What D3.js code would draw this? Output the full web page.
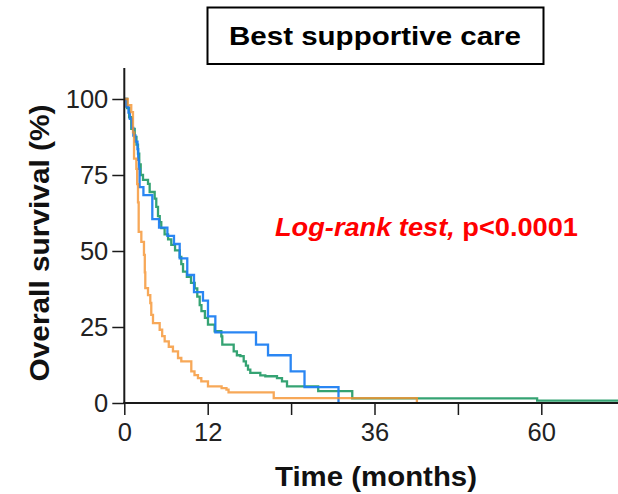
<!DOCTYPE html>
<html>
<head>
<meta charset="utf-8">
<script src="https://cdn.jsdelivr.net/npm/d3@7"></script>
<style>
  html, body { margin: 0; padding: 0; background: #fff; }
  svg { display: block; font-family: "Liberation Sans", Arial, sans-serif; }
</style>
</head>
<body>
<svg id="chart" width="618" height="494"></svg>
<script>
// ---- Data ----
const chartTitle = "Best supportive care";
const xTitle = "Time (months)";
const yTitle = "Overall survival (%)";
const statItalic = "Log-rank test,";
const statPlain = " p<0.0001";

const xTickValues = [0, 12, 24, 36, 48, 60];
const xTickLabels = ["0", "12", "", "36", "", "60"];
const yTickValues = [0, 25, 50, 75, 100];
const yTickLabels = ["0", "25", "50", "75", "100"];

// Series: time (months) and survival (%) after each event (step after)
const blueTimes = [0, 0.3, 0.6, 0.8, 1.1, 1.3, 1.6, 1.9, 2.0, 2.1, 2.2, 2.75, 4.03, 5.0, 6.2, 7.15, 7.97, 9.06, 10.03, 11.32, 12.04, 13.1, 18.95, 20.68, 23.94, 25.93, 30.82];
const blueSurv  = [100, 97.5, 95.5, 93.5, 90.5, 88, 86, 83.5, 80, 77, 71, 68.4, 60.5, 57.7, 55, 52.3, 47.6, 42.1, 36.5, 33.7, 28.5, 23.2, 19.2, 15.7, 10.4, 5.2, 0];

const greenTimes = [0, 0.4, 0.7, 1.0, 1.5, 1.75, 1.97, 2.15, 2.36, 2.69, 3.41, 3.65, 4.37, 4.6, 4.85, 5.1, 5.32, 5.8, 6.3, 6.76, 7.3, 7.97, 8.2, 8.45, 9.0, 9.6, 10.13, 10.5, 10.85, 11.1, 11.6, 12.04, 13.0, 13.96, 14.1, 15.74, 16.2, 16.7, 17.18, 17.5, 17.8, 18.13, 19.57, 20.29, 21.97, 22.69, 23.41, 27.9, 32.8, 59.4, 72];
const greenSurv  = [100, 97, 94, 90.2, 87.5, 85, 82, 78.5, 75, 73.4, 72.1, 69.4, 67.2, 64.5, 61.5, 59.5, 57.5, 55.5, 53.8, 52, 50.2, 48.1, 45.7, 43.2, 41.5, 39.5, 37.7, 35, 32.2, 30.2, 28, 25.8, 23.6, 21.9, 19.2, 17, 15.7, 15.4, 13.7, 12.3, 11, 9.9, 9.1, 8.8, 8.2, 7.1, 5.5, 3.9, 1.55, 0.75, 0.75];

const orangeTimes = [0, 0.5, 1.0, 1.25, 1.4, 1.73, 1.85, 1.97, 2.07, 2.45, 2.83, 2.95, 3.02, 3.41, 3.74, 3.88, 4.13, 5.09, 5.45, 5.81, 6.4, 7.0, 7.73, 8.2, 9.64, 10.1, 10.6, 11.08, 12.04, 14.0, 14.7, 15.0, 21.5, 42.1];
const orangeSurv  = [100, 98, 95.7, 89, 80.4, 77, 72, 66, 56.3, 53, 48.7, 43, 37.8, 35.5, 32.9, 29, 26.3, 24.1, 22, 20.3, 18.5, 17, 14.8, 13.7, 10.4, 9.2, 8.2, 7.1, 5.5, 4.9, 4.4, 3.5, 1.6, 0];

// ---- Layout ----
const svg = d3.select("#chart");
const x0 = 124.3, pxPerMonth = 6.95;
const x = d3.scaleLinear().domain([0, 72]).range([x0, x0 + 72 * pxPerMonth]);
const y = d3.scaleLinear().domain([0, 100]).range([403, 99]);

const axisColor = "#1a1a1a";

// Title box
svg.append("rect")
  .attr("x", 207.5).attr("y", 7.5).attr("width", 336).attr("height", 56.5)
  .attr("fill", "#fff").attr("stroke", "#000").attr("stroke-width", 2);
svg.append("text")
  .attr("x", 375).attr("y", 45)
  .attr("text-anchor", "middle")
  .attr("font-size", 26).attr("font-weight", "bold").attr("fill", "#000")
  .attr("textLength", 292).attr("lengthAdjust", "spacingAndGlyphs")
  .text(chartTitle);

// Series lines
const line = d3.line()
  .x(d => x(d[0])).y(d => y(d[1]))
  .curve(d3.curveStepAfter);

const series = [
  { t: greenTimes, s: greenSurv, color: "#2a9e6c", op: 0.95 },
  { t: blueTimes, s: blueSurv, color: "#1f7ff2", op: 0.95 },
  { t: orangeTimes, s: orangeSurv, color: "#f5922e", op: 0.8 }
];
const g = svg.append("g");
series.forEach(sr => {
  const pts = sr.t.map((t, i) => [t, sr.s[i]]);
  g.append("path")
    .datum(pts)
    .attr("d", line)
    .attr("fill", "none")
    .attr("stroke", sr.color)
    .attr("stroke-opacity", sr.op)
    .attr("stroke-width", 2.3)
    .attr("stroke-linejoin", "miter");
});

// Y axis
const yAxis = d3.axisLeft(y)
  .tickValues(yTickValues)
  .tickFormat((d, i) => yTickLabels[i])
  .tickSize(12).tickSizeOuter(0).tickPadding(4);
const yg = svg.append("g").attr("transform", `translate(${x0},0)`).call(yAxis);
yg.select(".domain").remove();
yg.append("line")
  .attr("x1", 0).attr("x2", 0)
  .attr("y1", y(110.2)).attr("y2", y(0) + 1)
  .attr("stroke", axisColor).attr("stroke-width", 2);
yg.selectAll(".tick line").attr("stroke", axisColor).attr("stroke-width", 1.5);
yg.selectAll(".tick text")
  .attr("font-size", 25.5).attr("fill", "#222")
  .attr("font-family", "Liberation Sans, Arial, sans-serif")
  .attr("dy", "0.35em");

// X axis
const xAxis = d3.axisBottom(x)
  .tickValues(xTickValues)
  .tickFormat((d, i) => xTickLabels[i])
  .tickSize(12).tickSizeOuter(0).tickPadding(8);
const xg = svg.append("g").attr("transform", `translate(0,${y(0)})`).call(xAxis);
xg.select(".domain").remove();
xg.append("line")
  .attr("x1", x0 - 1).attr("x2", 618)
  .attr("y1", 0).attr("y2", 0)
  .attr("stroke", axisColor).attr("stroke-width", 2);
xg.selectAll(".tick line").attr("stroke", axisColor).attr("stroke-width", 1.5);
xg.selectAll(".tick text")
  .attr("font-size", 25.5).attr("fill", "#222")
  .attr("font-family", "Liberation Sans, Arial, sans-serif");

// Axis titles
svg.append("text")
  .attr("x", 376).attr("y", 486)
  .attr("text-anchor", "middle")
  .attr("font-size", 27).attr("font-weight", "bold").attr("fill", "#111")
  .attr("textLength", 202).attr("lengthAdjust", "spacingAndGlyphs")
  .text(xTitle);

svg.append("text")
  .attr("transform", "translate(49,243) rotate(-90)")
  .attr("text-anchor", "middle")
  .attr("font-size", 27).attr("font-weight", "bold").attr("fill", "#111")
  .attr("textLength", 277).attr("lengthAdjust", "spacingAndGlyphs")
  .text(yTitle);

// Statistic annotation
const st = svg.append("text")
  .attr("x", 275).attr("y", 236)
  .attr("font-size", 26).attr("font-weight", "bold").attr("fill", "#ff0000")
  .attr("textLength", 303).attr("lengthAdjust", "spacingAndGlyphs");
st.append("tspan").attr("font-style", "italic").text(statItalic);
st.append("tspan").text(statPlain);
</script>
</body>
</html>
